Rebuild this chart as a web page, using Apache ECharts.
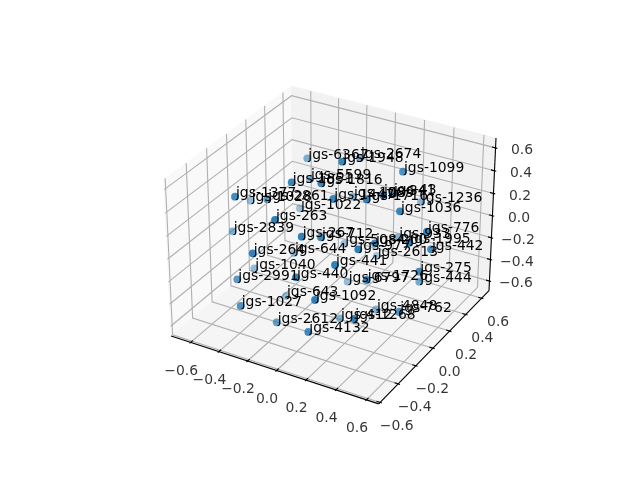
<!DOCTYPE html>
<html><head><meta charset="utf-8">
<style>html,body{margin:0;padding:0;background:#fff}#c{width:640px;height:480px}</style>
<script src="https://cdn.jsdelivr.net/npm/echarts@6/dist/echarts.min.js"></script>
</head><body><div id="c"></div>
<script>
const names = ["jgs-6367","jgs-1948","jgs-2674","jgs-1099","jgs-5599","jgs-1851","jgs-1816","jgs-1377","jgs-1028","jgs-2861","jgs-1022","jgs-1447","jgs-1089","jgs-1716","jgs-341","jgs-43","jgs-1236","jgs-1036","jgs-263","jgs-2839","jgs-267","jgs-712","jgs-776","jgs-933","jgs-1995","jgs-442","jgs-5084","jgs-977","jgs-200","jgs-2613","jgs-264","jgs-644","jgs-441","jgs-1040","jgs-2991","jgs-440","jgs-6797","jgs-1726","jgs-275","jgs-444","jgs-643","jgs-1092","jgs-1027","jgs-2612","jgs-4132","jgs-412","jgs-1268","jgs-4848","jgs-762"];
const screenX = [307.3,342.3,360,403,310,291.7,321.3,235,250.7,267.3,300,333.3,353,366.7,383,393,421,400,275,232.7,301.7,321,427,398.3,409.3,431,344.3,358.3,375,376.7,252.7,294,335,254.3,237.3,296,347.7,366.7,419.3,419.3,286,315,240.7,276.7,308.3,340,354.3,376,399.3];
const screenY = [158.3,161.7,158,171.7,179,182.3,183.3,196.7,200.7,199.3,208.3,199,196.7,199.3,195,194,202,211.3,220,231.3,236.7,237.3,231.7,237.3,242.7,249.3,244,249.3,243.3,256,253.3,253,265,268.3,279.3,277.3,281.7,280,271.7,281.7,296,300,306,322.3,332,318.3,319,309.3,311.7];
const shade = [0.6,0.95,0.6,0.85,0.55,0.95,0.95,0.9,0.5,0.75,0.45,0.95,0.55,1,0.9,0.9,0.55,0.95,1,0.6,1,0.95,0.95,0.55,1,0.9,0.45,1,0.95,0.4,1,0.45,1,0.5,0.8,1,0.5,1,0.9,0.65,0.5,1,0.85,0.75,0.9,0.6,1,0.55,0.85];
const tickValues = [-0.6,-0.4,-0.2,0,0.2,0.4,0.6];
const xLim = [-0.74,0.68], yLim = [-0.615,0.695], zLim = [-0.69,0.685];

// matplotlib's default mplot3d camera (elev 30, azim -60, dist 10, box 4:4:3)
const nrm = Math.hypot(4,4,3), sc = 1.8294640721620434*25/24/nrm, box = [4*sc,4*sc,3*sc];
const el = 30*Math.PI/180, az = -60*Math.PI/180;
const w = [Math.cos(el)*Math.cos(az),Math.cos(el)*Math.sin(az),Math.sin(el)];
const uL = Math.hypot(w[1],w[0]), u = [-w[1]/uL,w[0]/uL,0];
const v = [w[1]*u[2]-w[2]*u[1],w[2]*u[0]-w[0]*u[2],w[0]*u[1]-w[1]*u[0]];
function proj(x,y,z){
  const p=[((x-xLim[0])/(xLim[1]-xLim[0])-.5)*box[0],((y-yLim[0])/(yLim[1]-yLim[0])-.5)*box[1],((z-zLim[0])/(zLim[1]-zLim[0])-.5)*box[2]];
  const dot=(a,b)=>a[0]*b[0]+a[1]*b[1]+a[2]*b[2], d=10-dot(p,w);
  const px=dot(p,u)/d, py=dot(p,v)/d;
  return [143.2+(px+0.095)/0.185*369.6, 480-(52.8+(py+0.095)/0.185*369.6)];
}
const [x0,x1]=xLim,[y0,y1]=yLim,[z0,z1]=zLim;
const panes=[
 {c:'#f9f9f9',p:[[x0,y0,z0],[x0,y1,z0],[x0,y1,z1],[x0,y0,z1]]},
 {c:'#f2f2f2',p:[[x0,y1,z0],[x1,y1,z0],[x1,y1,z1],[x0,y1,z1]]},
 {c:'#f5f5f5',p:[[x0,y0,z0],[x1,y0,z0],[x1,y1,z0],[x0,y1,z0]]}
].map(o=>({c:o.c,p:o.p.map(q=>proj(...q))}));
const lines=[];
const add=(pts,c,lw)=>lines.push({p:pts.map(q=>proj(...q)),c,lw});
const G='#b0b0b0',K='#000',GW=1.1;
tickValues.forEach(t=>{
  add([[t,y0,z0],[t,y1,z0],[t,y1,z1]],G,GW);
  add([[x1,t,z0],[x0,t,z0],[x0,t,z1]],G,GW);
  add([[x1,y1,t],[x0,y1,t],[x0,y0,t]],G,GW);
});
add([[x0,y0,z0],[x1,y0,z0]],K,1.1);
add([[x1,y0,z0],[x1,y1,z0]],K,1.1);
add([[x1,y1,z0],[x1,y1,z1]],K,1.1);
const dx=(x1-x0)/12,dy=(y1-y0)/12;
tickValues.forEach(t=>{
  add([[t,y0+0.2*dy,z0],[t,y0-0.1*dy,z0]],K,1.1);
  add([[x1-0.2*dx,t,z0],[x1+0.1*dx,t,z0]],K,1.1);
  add([[x1-0.2*dx,y1,t],[x1+0.1*dx,y1,t]],K,1.1);
});
const fmt=t=>(t<0?'\u2212':'')+Math.abs(t).toFixed(1);
const tickLabels=[];
tickValues.forEach(t=>{
  let a=proj(t,y0,z0); tickLabels.push({value:[a[0]-9.5,a[1]+28.5],text:fmt(t)});
  a=proj(x1,t,z0); tickLabels.push({value:[a[0]+16.5,a[1]+24],text:fmt(t)});
  a=proj(x1,y1,t); tickLabels.push({value:[a[0]+26.5,a[1]+2.5],text:fmt(t)});
});
const font={fontFamily:'DejaVu Sans',fontSize:13.9,color:'#000'};
const chart=echarts.init(document.getElementById('c'),null,{renderer:'canvas'});
chart.setOption({
  animation:false,
  grid:{left:0,right:0,top:0,bottom:0},
  xAxis:{type:'value',min:0,max:640,show:false},
  yAxis:{type:'value',min:0,max:480,inverse:true,show:false},
  series:[
   {type:'custom',coordinateSystem:'cartesian2d',silent:true,clip:false,z:1,
    data:panes.map((_,i)=>[i,i]),encode:{x:0,y:1},
    renderItem:(p,api)=>{const o=panes[p.dataIndex];return{type:'polygon',shape:{points:o.p.map(q=>api.coord(q))},style:{fill:o.c,stroke:o.c}}}},
   {type:'custom',coordinateSystem:'cartesian2d',silent:true,clip:false,z:2,
    data:lines.map((_,i)=>[i,i]),encode:{x:0,y:1},
    renderItem:(p,api)=>{const o=lines[p.dataIndex];return{type:'polyline',shape:{points:o.p.map(q=>api.coord(q))},style:{fill:'none',stroke:o.c,lineWidth:o.lw}}}},
   {type:'scatter',silent:true,z:3,symbolSize:0,clip:false,
    data:tickLabels.map(o=>({value:o.value,label:{formatter:o.text}})),
    label:{show:true,position:'inside',align:'center',verticalAlign:'middle',...font}},
   {type:'scatter',silent:true,z:4,symbolSize:7.8,clip:false,
    data:names.map((n,i)=>({value:[screenX[i],screenY[i]],name:n,itemStyle:{color:'#1f77b4',opacity:shade[i]*0.92},
      label:{show:true,formatter:n,position:[4.9,7.7],align:'left',verticalAlign:'bottom',opacity:1,...font}}))}
  ]
});
</script></body></html>
